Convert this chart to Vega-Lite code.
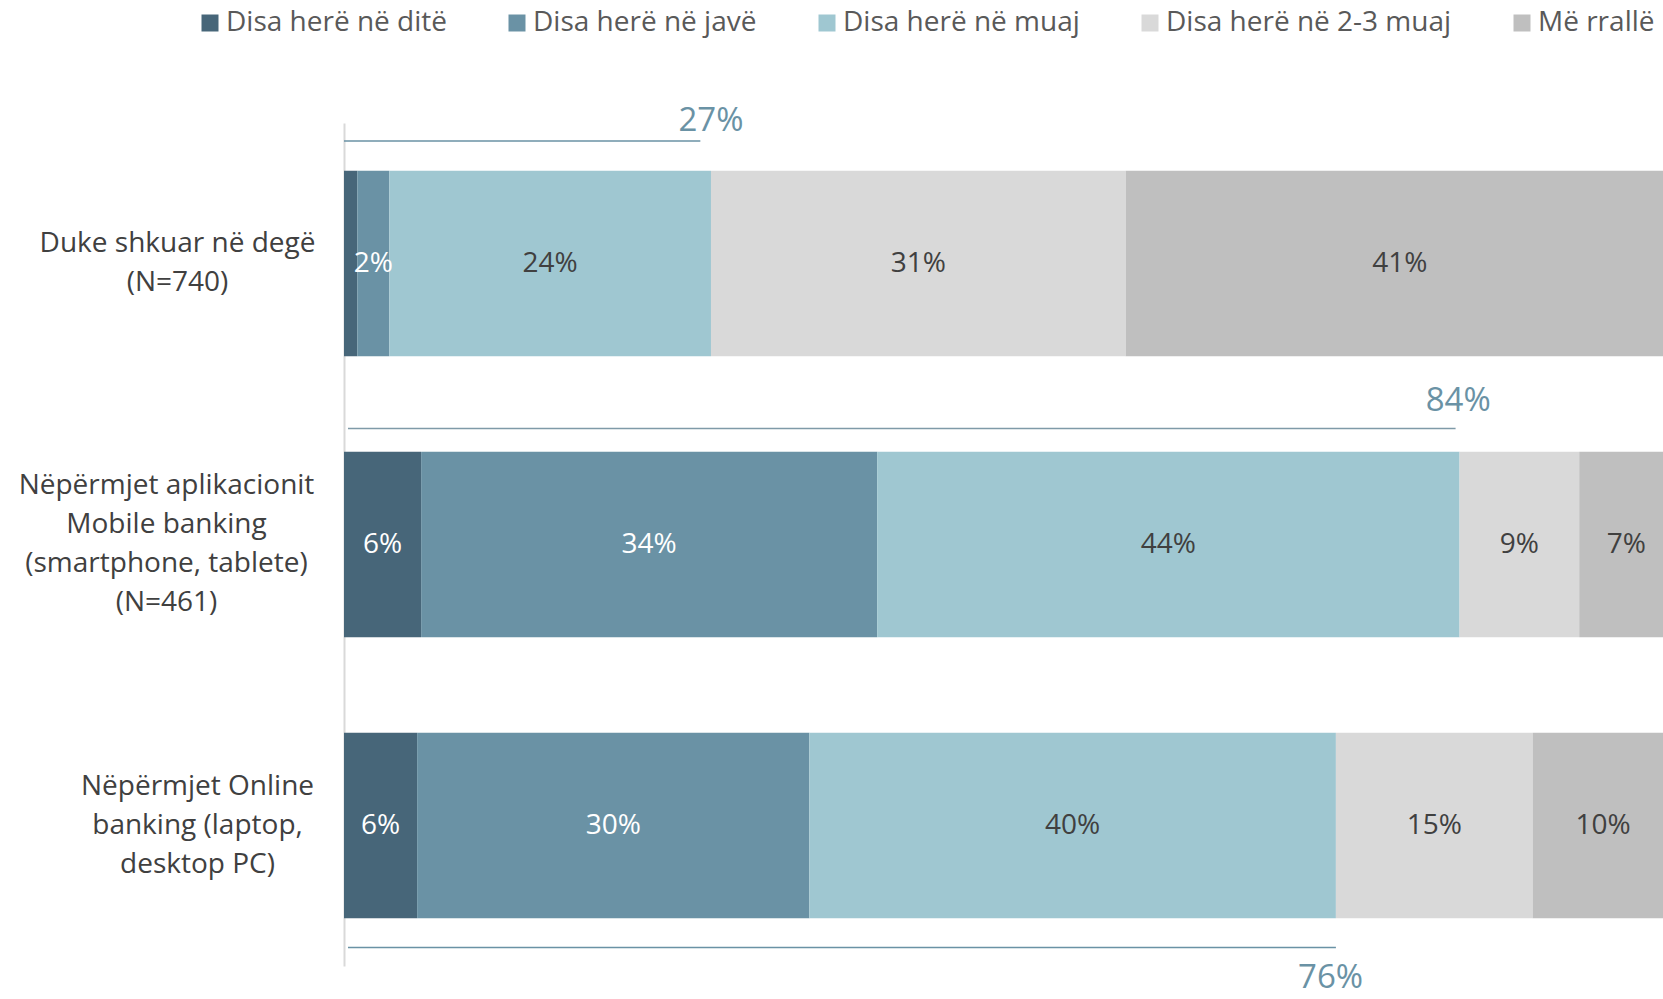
{
  "$schema": "https://vega.github.io/schema/vega-lite/v6.json",
  "width": 1319,
  "height": 843,
  "autosize": {"type": "none"},
  "padding": {"left": 344, "top": 123, "right": 0, "bottom": 33},
  "background": "white",
  "config": {"view": {"stroke": null}, "font": "Open Sans"},
  "datasets": {
    "segs": [
      {"row": "Duke shkuar në degë|(N=740)", "cat": "Disa herë në ditë", "k": 1, "v": 1.0, "label": ""},
      {"row": "Duke shkuar në degë|(N=740)", "cat": "Disa herë në javë", "k": 2, "v": 2.4, "label": "2%"},
      {"row": "Duke shkuar në degë|(N=740)", "cat": "Disa herë në muaj", "k": 3, "v": 24.2, "label": "24%"},
      {"row": "Duke shkuar në degë|(N=740)", "cat": "Disa herë në 2-3 muaj", "k": 4, "v": 31.2, "label": "31%"},
      {"row": "Duke shkuar në degë|(N=740)", "cat": "Më rrallë", "k": 5, "v": 41.2, "label": "41%"},
      {"row": "Nëpërmjet aplikacionit|Mobile banking|(smartphone, tablete)|(N=461)", "cat": "Disa herë në ditë", "k": 1, "v": 5.8, "label": "6%"},
      {"row": "Nëpërmjet aplikacionit|Mobile banking|(smartphone, tablete)|(N=461)", "cat": "Disa herë në javë", "k": 2, "v": 34.3, "label": "34%"},
      {"row": "Nëpërmjet aplikacionit|Mobile banking|(smartphone, tablete)|(N=461)", "cat": "Disa herë në muaj", "k": 3, "v": 43.8, "label": "44%"},
      {"row": "Nëpërmjet aplikacionit|Mobile banking|(smartphone, tablete)|(N=461)", "cat": "Disa herë në 2-3 muaj", "k": 4, "v": 9.0, "label": "9%"},
      {"row": "Nëpërmjet aplikacionit|Mobile banking|(smartphone, tablete)|(N=461)", "cat": "Më rrallë", "k": 5, "v": 7.1, "label": "7%"},
      {"row": "Nëpërmjet Online|banking (laptop,|desktop PC)", "cat": "Disa herë në ditë", "k": 1, "v": 5.5, "label": "6%"},
      {"row": "Nëpërmjet Online|banking (laptop,|desktop PC)", "cat": "Disa herë në javë", "k": 2, "v": 29.5, "label": "30%"},
      {"row": "Nëpërmjet Online|banking (laptop,|desktop PC)", "cat": "Disa herë në muaj", "k": 3, "v": 39.6, "label": "40%"},
      {"row": "Nëpërmjet Online|banking (laptop,|desktop PC)", "cat": "Disa herë në 2-3 muaj", "k": 4, "v": 14.8, "label": "15%"},
      {"row": "Nëpërmjet Online|banking (laptop,|desktop PC)", "cat": "Më rrallë", "k": 5, "v": 10.6, "label": "10%"}
    ],
    "ann": [
      {"row": "Duke shkuar në degë|(N=740)", "start": 0, "end": 26.8, "tx": 27.6, "txt": "27%"},
      {"row": "Nëpërmjet aplikacionit|Mobile banking|(smartphone, tablete)|(N=461)", "start": 0.3, "end": 83.6, "tx": 83.8, "txt": "84%"},
      {"row": "Nëpërmjet Online|banking (laptop,|desktop PC)", "start": 0.3, "end": 74.6, "tx": 74.2, "txt": "76%"}
    ]
  },
  "layer": [
    {
      "data": {"name": "segs"},
      "transform": [
        {"stack": "v", "groupby": ["row"], "sort": [{"field": "k"}], "as": ["x0", "x1"]}
      ],
      "mark": {"type": "bar", "clip": true},
      "encoding": {
        "y": {
          "field": "row", "type": "nominal", "sort": null,
          "scale": {"paddingInner": 0.34, "paddingOuter": 0.17},
          "axis": {
            "title": null,
            "ticks": false,
            "tickSize": 0,
            "domain": true,
            "domainColor": "#D9D9D9",
            "domainWidth": 2,
            "labelFontSize": 28,
            "labelColor": "#404040",
            "labelAlign": "center",
            "labelBaseline": "middle",
            "labelLineHeight": 39,
            "labelLimit": 500,
            "labelExpr": "split(datum.label, '|')",
            "labelPadding": {
              "condition": [
                {"test": "indexof(datum.value, 'Duke') >= 0", "value": 167},
                {"test": "indexof(datum.value, 'aplikacionit') >= 0", "value": 178}
              ],
              "value": 147
            },
            "labelOffset": {
              "condition": [
                {"test": "indexof(datum.value, 'Duke') >= 0", "value": -20},
                {"test": "indexof(datum.value, 'aplikacionit') >= 0", "value": -59}
              ],
              "value": -39
            }
          }
        },
        "x": {"field": "x0", "type": "quantitative", "scale": {"domain": [0, 99.2], "nice": false, "zero": true}, "axis": null},
        "x2": {"field": "x1"},
        "color": {
          "field": "cat", "type": "nominal",
          "scale": {
            "domain": ["Disa herë në ditë", "Disa herë në javë", "Disa herë në muaj", "Disa herë në 2-3 muaj", "Më rrallë"],
            "range": ["#476679", "#6A92A5", "#9FC7D1", "#D9D9D9", "#BFBFBF"]
          },
          "legend": {
            "title": null,
            "orient": "none",
            "direction": "horizontal",
            "legendX": -148,
            "legendY": -114,
            "symbolType": "square",
            "symbolSize": 289,
            "symbolStrokeWidth": 0,
            "labelFontSize": 28,
            "labelColor": "#595959",
            "labelOffset": 2,
            "labelLimit": 500,
            "columnPadding": 56
          }
        }
      }
    },
    {
      "data": {"name": "segs"},
      "transform": [
        {"stack": "v", "groupby": ["row"], "sort": [{"field": "k"}], "as": ["x0", "x1"]},
        {"calculate": "(datum.x0 + datum.x1) / 2", "as": "mid"},
        {"filter": "datum.label != ''"}
      ],
      "mark": {"type": "text", "fontSize": 28, "align": "center", "baseline": "middle"},
      "encoding": {
        "y": {"field": "row", "type": "nominal", "sort": null},
        "x": {"field": "mid", "type": "quantitative"},
        "text": {"field": "label"},
        "color": {"condition": {"test": "datum.k <= 2", "value": "white"}, "value": "#404040"}
      }
    },
    {
      "data": {"name": "ann"},
      "transform": [{"filter": "datum.txt == '27%'"}],
      "layer": [
        {
          "mark": {"type": "rule", "color": "#6A92A5", "strokeWidth": 1.5, "yOffset": -122.6},
          "encoding": {
            "y": {"field": "row", "type": "nominal", "sort": null},
            "x": {"field": "start", "type": "quantitative"},
            "x2": {"field": "end"}
          }
        },
        {
          "mark": {"type": "text", "color": "#6A92A5", "fontSize": 33, "align": "center", "baseline": "middle", "yOffset": -143},
          "encoding": {
            "y": {"field": "row", "type": "nominal", "sort": null},
            "x": {"field": "tx", "type": "quantitative"},
            "text": {"field": "txt"}
          }
        }
      ]
    },
    {
      "data": {"name": "ann"},
      "transform": [{"filter": "datum.txt == '84%'"}],
      "layer": [
        {
          "mark": {"type": "rule", "color": "#7F9AA8", "strokeWidth": 1.5, "yOffset": -116},
          "encoding": {
            "y": {"field": "row", "type": "nominal", "sort": null},
            "x": {"field": "start", "type": "quantitative"},
            "x2": {"field": "end"}
          }
        },
        {
          "mark": {"type": "text", "color": "#6A92A5", "fontSize": 33, "align": "center", "baseline": "middle", "yOffset": -144},
          "encoding": {
            "y": {"field": "row", "type": "nominal", "sort": null},
            "x": {"field": "tx", "type": "quantitative"},
            "text": {"field": "txt"}
          }
        }
      ]
    },
    {
      "data": {"name": "ann"},
      "transform": [{"filter": "datum.txt == '76%'"}],
      "layer": [
        {
          "mark": {"type": "rule", "color": "#6A92A5", "strokeWidth": 1.5, "yOffset": 122},
          "encoding": {
            "y": {"field": "row", "type": "nominal", "sort": null},
            "x": {"field": "start", "type": "quantitative"},
            "x2": {"field": "end"}
          }
        },
        {
          "mark": {"type": "text", "color": "#6A92A5", "fontSize": 33, "align": "center", "baseline": "middle", "yOffset": 152},
          "encoding": {
            "y": {"field": "row", "type": "nominal", "sort": null},
            "x": {"field": "tx", "type": "quantitative"},
            "text": {"field": "txt"}
          }
        }
      ]
    }
  ]
}
